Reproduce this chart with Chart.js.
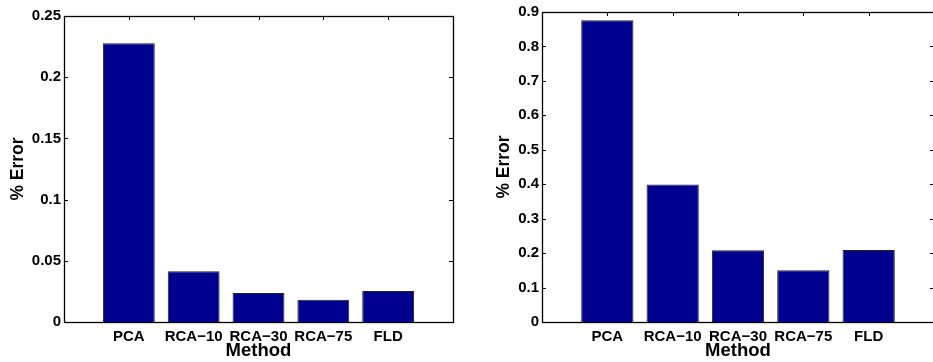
<!DOCTYPE html>
<html>
<head>
<meta charset="utf-8">
<script src="https://cdn.jsdelivr.net/npm/chart.js@4"></script>
<style>
html, body { margin: 0; padding: 0; background: #fff; overflow: hidden; }
body { width: 933px; height: 362px; position: relative; }
.box { position: absolute; top: 0; height: 362px; }
#left { left: 0; width: 466px; }
#right { left: 470px; width: 470px; }
</style>
</head>
<body>
<div class="box" id="left"><canvas id="c1"></canvas></div>
<div class="box" id="right"><canvas id="c2"></canvas></div>
<script>
Chart.defaults.font.family = "'Liberation Sans', Arial, sans-serif"
Chart.defaults.font.weight = 'bold'
Chart.defaults.color = '#000'

var methods = ['PCA', 'RCA\u221210', 'RCA\u221230', 'RCA\u221275', 'FLD']
var errorsA = [0.2277, 0.0414, 0.0237, 0.0182, 0.0253]
var errorsB = [0.876, 0.399, 0.208, 0.150, 0.209]
var ticksA = ['0', '0.05', '0.1', '0.15', '0.2', '0.25']
var ticksB = ['0', '0.1', '0.2', '0.3', '0.4', '0.5', '0.6', '0.7', '0.8', '0.9']

// matlab style box with inward ticks
var boxPlugin = {
  id: 'matlabBox',
  beforeDatasetsDraw: function(chart) {
    var ctx = chart.ctx, a = chart.chartArea
    var xs = chart.scales.x, ys = chart.scales.y
    var L = 4
    ctx.save()
    ctx.strokeStyle = '#000'
    ctx.lineWidth = 1
    ctx.beginPath()
    ys.ticks.forEach(function(t) {
      var y = Math.round(ys.getPixelForValue(t.value)) + 0.5
      ctx.moveTo(a.left, y); ctx.lineTo(a.left + L, y)
      ctx.moveTo(a.right, y); ctx.lineTo(a.right - L, y)
    })
    xs.ticks.forEach(function(t) {
      if (t.value < 1 || t.value > methods.length) return
      var x = Math.round(xs.getPixelForValue(t.value)) + 0.5
      ctx.moveTo(x, a.top); ctx.lineTo(x, a.top + L)
      ctx.moveTo(x, a.bottom); ctx.lineTo(x, a.bottom - L)
    })
    ctx.stroke()
    ctx.lineWidth = 1.3
    ctx.strokeRect(Math.round(a.left) + 0.5, Math.round(a.top) + 0.5,
      Math.round(a.right - a.left), Math.round(a.bottom - a.top))
    ctx.restore()
  }
}

function makeChart(id, values, tickLabels, step, yWidth, pad, titlePad) {
  var pts = values.map(function(v, i) { return {x: i + 1, y: v} })
  return new Chart(document.getElementById(id), {
    type: 'bar',
    data: {
      datasets: [{
        data: pts,
        backgroundColor: '#00008F',
        borderColor: '#222',
        borderWidth: 1,
        barPercentage: 0.8,
        categoryPercentage: 1
      }]
    },
    options: {
      responsive: true,
      maintainAspectRatio: false,
      animation: false,
      layout: { padding: pad },
      plugins: { legend: { display: false }, tooltip: { enabled: false } },
      scales: {
        x: {
          type: 'linear', min: 0, max: methods.length + 1, offset: false,
          grid: { display: false, drawTicks: false },
          border: { display: false },
          ticks: {
            stepSize: 1, padding: 6, autoSkip: false, maxRotation: 0,
            font: { size: 15, weight: 'bold' },
            callback: function(v) { return methods[v - 1] || '' }
          },
          title: { display: true, text: 'Method', font: { size: 18.5, weight: 'bold' }, padding: { top: 0, bottom: 0 } },
          afterFit: function(s) { s.height = 40 }
        },
        y: {
          min: 0, max: step * (tickLabels.length - 1),
          grid: { display: false, drawTicks: false },
          border: { display: false },
          ticks: {
            stepSize: step, padding: 3,
            font: { size: 15, weight: 'bold' },
            callback: function(v, i) { return tickLabels[i] }
          },
          title: { display: true, text: '% Error', font: { size: 17.5, weight: 'bold' }, padding: { top: titlePad, bottom: 0 } },
          afterFit: function(s) { s.width = yWidth }
        }
      }
    },
    plugins: [boxPlugin]
  })
}

makeChart('c1', errorsA, ticksA, 0.05, 64, { top: 16, right: 13, left: 0, bottom: 0 }, 7.5)
makeChart('c2', errorsB, ticksB, 0.1, 72, { top: 9, right: 2, left: 0, bottom: 0 }, 23.5)
</script>
</body>
</html>
